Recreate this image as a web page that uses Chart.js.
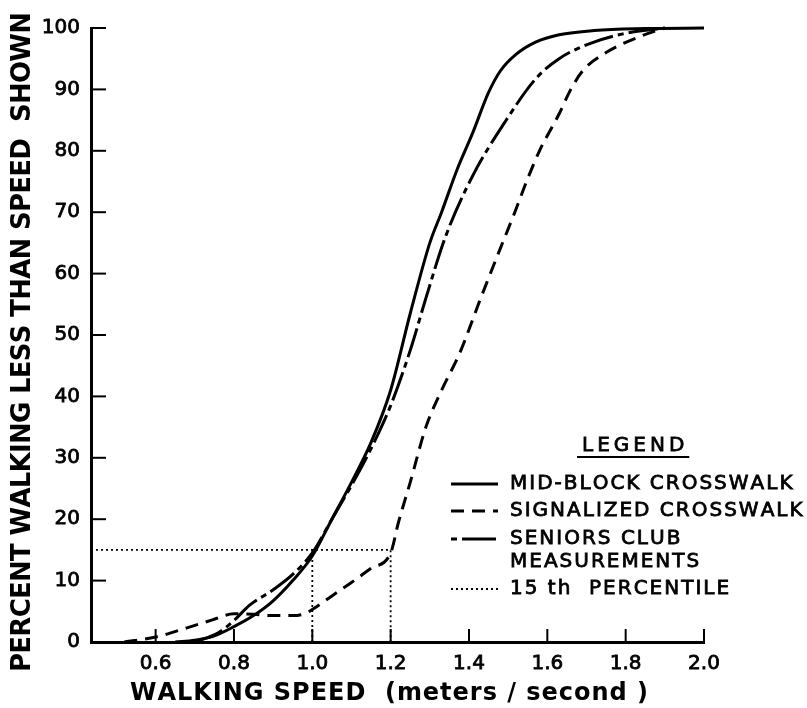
<!DOCTYPE html>
<html>
<head>
<meta charset="utf-8">
<title>Walking speed distribution</title>
<script src="https://cdn.jsdelivr.net/npm/chart.js@4.4.1/dist/chart.umd.min.js"></script>
<style>
  html, body { margin: 0; padding: 0; background: #fff; }
  #wrap { width: 807px; height: 708px; }
</style>
</head>
<body>
<div id="wrap"><canvas id="chart" width="807" height="708"></canvas></div>
<script>
// ---------- Data ----------
const xTickValues = [0.6, 0.8, 1.0, 1.2, 1.4, 1.6, 1.8, 2.0];
const yTickValues = [0, 10, 20, 30, 40, 50, 60, 70, 80, 90, 100];
const xMin = 0.435, xMax = 2.0;

// mid-block crosswalk (solid)
const midX = [0.65, 0.70, 0.75, 0.80, 0.85, 0.90, 0.95, 1.00, 1.05, 1.10, 1.15, 1.20, 1.25, 1.30, 1.33, 1.37, 1.41, 1.45, 1.48, 1.52, 1.57, 1.63, 1.72, 1.85, 2.00];
const midY = [0, 0.3, 1.0, 2.5, 4.3, 6.7, 10.0, 14.0, 20.0, 26.0, 32.5, 41.0, 53.5, 65.0, 70.0, 77.0, 83.0, 89.5, 93.0, 95.7, 97.7, 98.9, 99.6, 99.9, 100];

// signalized crosswalk (dashed)
const sigX = [0.52, 0.60, 0.68, 0.745, 0.80, 0.85, 0.90, 0.95, 0.98, 1.00, 1.05, 1.10, 1.15, 1.20, 1.22, 1.25, 1.29, 1.33, 1.376, 1.43, 1.47, 1.517, 1.547, 1.58, 1.63, 1.66, 1.69, 1.75, 1.84, 1.90];
const sigY = [0, 0.8, 2.3, 3.6, 4.6, 4.5, 4.3, 4.3, 4.6, 5.3, 7.5, 9.7, 12.0, 14.5, 19.5, 26.0, 35.0, 41.0, 47.0, 56.0, 62.5, 70.0, 75.0, 80.0, 86.0, 90.0, 93.0, 96.0, 98.7, 100];

// seniors club measurements (long dash - short dash)
const senX = [0.70, 0.76, 0.80, 0.84, 0.90, 0.95, 1.00, 1.05, 1.10, 1.15, 1.20, 1.25, 1.29, 1.34, 1.41, 1.49, 1.57, 1.63, 1.71, 1.79, 1.90];
const senY = [0, 1.5, 3.5, 6.0, 8.5, 11.0, 14.5, 20.0, 25.5, 31.5, 38.5, 47.5, 56.0, 66.0, 76.0, 84.5, 91.7, 95.0, 97.5, 99.0, 100];

// 15th percentile guide lines
const pctLevel = 15;
const pctSpeeds = [1.0, 1.2];

// ---------- Styles ----------
const FONT = '"DejaVu Sans", "Liberation Sans", sans-serif';
const DASH_SIG = [13, 8];
const DASH_SEN = [30, 5, 6, 5];
const DASH_DOT = [2, 3];

const pts = (xs, ys) => xs.map((x, i) => ({ x, y: ys[i] }));

function curve(label, xs, ys, dash) {
  return {
    label, data: pts(xs, ys), showLine: true,
    borderColor: '#000', borderWidth: 3, borderDash: dash,
    pointRadius: 0, fill: false, cubicInterpolationMode: 'monotone', clip: 6
  };
}
function guide(data) {
  return {
    label: '15th percentile', data, showLine: true,
    borderColor: '#000', borderWidth: 1.8, borderDash: DASH_DOT,
    pointRadius: 0, fill: false, tension: 0, clip: 6
  };
}

// draw text char by char with extra spacing; returns drawn width
function drawSpaced(ctx, text, x, y, gap, stroke) {
  let cx = x;
  for (const ch of text) {
    ctx.fillText(ch, cx, y);
    if (stroke) ctx.strokeText(ch, cx, y);
    cx += ctx.measureText(ch).width + gap;
  }
  return cx - gap - x;
}
function gapToFit(ctx, text, width) {
  let w = 0;
  for (const ch of text) w += ctx.measureText(ch).width;
  return (width - w) / (text.length - 1);
}

// ---------- Plugin: inward ticks, titles, legend ----------
const paperDecor = {
  id: 'paperDecor',
  afterDraw(chart) {
    const ctx = chart.ctx;
    const xs = chart.scales.x, ys = chart.scales.y;
    const area = chart.chartArea;
    ctx.save();
    ctx.strokeStyle = '#000';
    ctx.fillStyle = '#000';

    // inward tick marks
    ctx.lineWidth = 2;
    yTickValues.forEach(v => {
      const py = ys.getPixelForValue(v);
      ctx.beginPath(); ctx.moveTo(area.left, py); ctx.lineTo(area.left + 15, py); ctx.stroke();
    });
    xTickValues.forEach(v => {
      const px = xs.getPixelForValue(v);
      ctx.beginPath(); ctx.moveTo(px, area.bottom); ctx.lineTo(px, area.bottom - 13); ctx.stroke();
    });

    // axis titles
    ctx.textBaseline = 'middle';
    ctx.textAlign = 'left';
    ctx.font = 'bold 24px ' + FONT;
    const xt = 'WALKING SPEED  (meters / second )';
    drawSpaced(ctx, xt, 130, 694, gapToFit(ctx, xt, 518));

    ctx.save();
    ctx.translate(23, 672);
    ctx.rotate(-Math.PI / 2);
    ctx.font = 'bold 26px ' + FONT;
    const yt = 'PERCENT WALKING LESS THAN SPEED  SHOWN';
    drawSpaced(ctx, yt, 0, 0, gapToFit(ctx, yt, 660));
    ctx.restore();

    // legend (slightly stroked to get the medium pen weight)
    ctx.font = '20px ' + FONT;
    ctx.lineWidth = 0.8;
    ctx.setLineDash([]);
    const lw = drawSpaced(ctx, 'LEGEND', 582, 446, 4, true);
    ctx.lineWidth = 2;
    ctx.beginPath(); ctx.moveTo(577, 457); ctx.lineTo(582 + lw + 5, 457); ctx.stroke();

    const entries = [
      { text: ['MID-BLOCK CROSSWALK'], y: 484, dash: [], w: 3 },
      { text: ['SIGNALIZED CROSSWALK'], y: 511, dash: DASH_SIG, w: 3 },
      { text: ['SENIORS CLUB', 'MEASUREMENTS'], y: 539, dash: [6, 5, 34, 5], w: 3 },
      { text: ['15 th  PERCENTILE'], y: 589, dash: DASH_DOT, w: 1.8 }
    ];
    entries.forEach(e => {
      ctx.lineWidth = e.w;
      ctx.setLineDash(e.dash);
      ctx.beginPath(); ctx.moveTo(451, e.y); ctx.lineTo(498, e.y); ctx.stroke();
      ctx.setLineDash([]);
      ctx.lineWidth = 0.8;
      e.text.forEach((t, i) => drawSpaced(ctx, t, 510, e.y + i * 23, 2, true));
    });
    ctx.restore();
  }
};

// ---------- Chart ----------
const tickFont = { family: FONT, size: 20 };

new Chart(document.getElementById('chart'), {
  type: 'scatter',
  data: {
    datasets: [
      curve('Mid-block crosswalk', midX, midY, []),
      curve('Signalized crosswalk', sigX, sigY, DASH_SIG),
      curve('Seniors club measurements', senX, senY, DASH_SEN),
      guide([{ x: xMin, y: pctLevel }, { x: pctSpeeds[1], y: pctLevel }, { x: pctSpeeds[1], y: 0 }]),
      guide([{ x: pctSpeeds[0], y: 0 }, { x: pctSpeeds[0], y: pctLevel }])
    ]
  },
  options: {
    responsive: false,
    animation: false,
    layout: { padding: { left: 0, top: 28, right: 103, bottom: 0 } },
    plugins: { legend: { display: false }, tooltip: { enabled: false } },
    scales: {
      x: {
        type: 'linear', min: xMin, max: xMax,
        afterFit: s => { s.height = 66; },
        afterBuildTicks: s => { s.ticks = xTickValues.map(v => ({ value: v })); },
        grid: { drawOnChartArea: false, drawTicks: false },
        border: { display: true, width: 3, color: '#000' },
        ticks: { color: '#000', font: tickFont, padding: 10, maxRotation: 0, autoSkip: false,
                 textStrokeColor: '#000', textStrokeWidth: 0.8,
                 callback: v => Number(v).toFixed(1) }
      },
      y: {
        type: 'linear', min: 0, max: 100,
        afterFit: s => { s.width = 91; },
        afterBuildTicks: s => { s.ticks = yTickValues.map(v => ({ value: v })); },
        grid: { drawOnChartArea: false, drawTicks: false },
        border: { display: true, width: 3, color: '#000' },
        ticks: { color: '#000', font: tickFont, padding: 11, autoSkip: false,
                 textStrokeColor: '#000', textStrokeWidth: 0.8 }
      }
    }
  },
  plugins: [paperDecor]
});
</script>
</body>
</html>
